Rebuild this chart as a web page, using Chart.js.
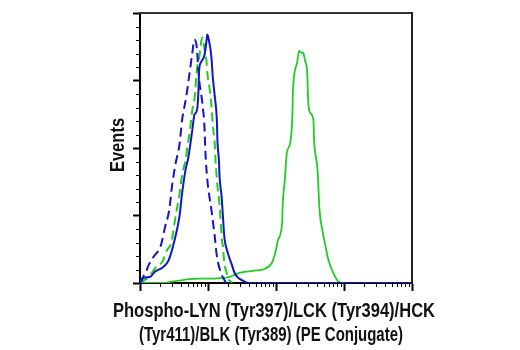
<!DOCTYPE html>
<html>
<head>
<meta charset="utf-8">
<script src="https://cdn.jsdelivr.net/npm/chart.js@4"></script>
<style>
  body { margin: 0; background: #fff; }
  #wrap { width: 520px; height: 350px; }
</style>
</head>
<body>
<div id="wrap"><canvas id="histo" width="520" height="350"></canvas></div>
<script>
// x values are log10 of the PE intensity (0..4 decades), y values are events (% of max)
const blueSolidX = [0, 0.06, 0.15, 0.22, 0.33, 0.40, 0.44, 0.52, 0.58, 0.62, 0.67, 0.71, 0.77, 0.80, 0.84, 0.86, 0.87, 0.90, 0.95, 0.98, 0.99, 1.02, 1.05, 1.07, 1.10, 1.13, 1.14, 1.16, 1.17, 1.20, 1.22, 1.24, 1.29, 1.35, 1.39, 1.44, 1.51, 1.59, 4];
const blueSolidY = [0, 2.0, 2.3, 4.2, 5.7, 7.5, 9.7, 17.1, 24.6, 33.4, 42.0, 46.4, 56.8, 62.3, 64.2, 71.6, 79.0, 81.9, 84.6, 90.1, 92.0, 89.0, 83.8, 76.4, 69.0, 60.5, 52.0, 45.7, 39.4, 32.0, 24.6, 17.1, 11.2, 6.8, 3.8, 2.0, 0.9, 0, 0];

const blueDashX = [0, 0.03, 0.09, 0.13, 0.21, 0.30, 0.37, 0.43, 0.47, 0.52, 0.58, 0.62, 0.68, 0.73, 0.77, 0.80, 0.83, 0.87, 0.92, 0.95, 0.96, 0.99, 1.05, 1.10, 1.13, 1.20, 1.27];
const blueDashY = [0, 1.6, 4.2, 6.8, 10.1, 13.4, 20.9, 27.1, 35.7, 43.8, 51.2, 60.5, 69.0, 77.9, 85.3, 90.1, 88.3, 75.3, 66.0, 56.8, 49.4, 38.3, 27.1, 17.1, 10.1, 3.1, 0];

const greenDashX = [0, 0.13, 0.25, 0.33, 0.40, 0.46, 0.52, 0.58, 0.62, 0.67, 0.70, 0.73, 0.77, 0.80, 0.84, 0.87, 0.90, 0.92, 0.95, 0.98, 0.99, 1.02, 1.05, 1.07, 1.10, 1.11, 1.14, 1.17, 1.19, 1.20, 1.22, 1.24, 1.27, 1.30, 1.36];
const greenDashY = [0, 2.3, 6.4, 7.9, 12.3, 14.9, 24.2, 32.7, 40.1, 45.7, 50.9, 55.7, 64.2, 67.9, 79.7, 83.4, 89.4, 90.9, 86.4, 81.6, 77.9, 72.7, 66.0, 58.6, 51.2, 45.7, 35.7, 29.0, 21.6, 17.1, 13.4, 7.5, 4.2, 1.6, 0];

const greenSolidX = [0, 0.36, 0.46, 0.58, 0.73, 0.87, 1.02, 1.17, 1.32, 1.47, 1.57, 1.72, 1.84, 1.94, 1.99, 2.03, 2.09, 2.10, 2.13, 2.16, 2.21, 2.24, 2.25, 2.31, 2.34, 2.37, 2.40, 2.43, 2.46, 2.47, 2.50, 2.55, 2.56, 2.61, 2.64, 2.68, 2.73, 2.77, 2.84, 2.92, 2.99];
const greenSolidY = [0, 0, 0.5, 0.9, 1.4, 1.6, 1.6, 1.8, 2.3, 3.8, 4.2, 4.7, 5.3, 7.5, 11.2, 16.0, 22.3, 29.7, 38.3, 48.3, 52.0, 61.6, 71.6, 81.6, 86.0, 85.3, 85.3, 82.0, 77.9, 69.0, 63.1, 60.5, 53.1, 42.0, 27.1, 19.7, 13.4, 8.6, 3.8, 0.5, 0];

const xMajorTicks = [0, 1, 2, 3, 4];
const yMajorTicks = [0, 25, 50, 75, 100];
const xTitleLines = ['Phospho-LYN (Tyr397)/LCK (Tyr394)/HCK', '(Tyr411)/BLK (Tyr389) (PE Conjugate)'];
const yTitle = 'Events';

const BLUE = '#1414c8';
const GREEN = '#22cc22';
const TITLE_FONT = "bold 20px 'Liberation Sans', Arial, sans-serif";

function pairs(xs, ys) {
  return xs.map((x, i) => ({ x: x, y: ys[i] }));
}

// short minor ticks between the major ones
const minorTicks = {
  id: 'minorTicks',
  afterDraw(chart) {
    const ctx = chart.ctx;
    const xs = chart.scales.x;
    const ys = chart.scales.y;
    const area = chart.chartArea;
    ctx.save();
    ctx.strokeStyle = '#000';
    ctx.lineWidth = 1;
    ctx.beginPath();
    for (let d = 0; d < 4; d++) {
      for (let k = 2; k <= 9; k++) {
        const px = Math.round(xs.getPixelForValue(d + Math.log10(k))) + 0.5;
        ctx.moveTo(px, area.bottom);
        ctx.lineTo(px, area.bottom + 4);
      }
    }
    for (let v = 5; v < 100; v += 5) {
      if (v % 25 === 0) continue;
      const py = Math.round(ys.getPixelForValue(v)) + 0.5;
      ctx.moveTo(area.left - 4, py);
      ctx.lineTo(area.left, py);
    }
    ctx.stroke();
    ctx.restore();
  }
};

// axis titles in a narrow bold face (no narrow font installed, so squeeze a normal one)
const axisTitles = {
  id: 'axisTitles',
  afterDraw(chart) {
    const ctx = chart.ctx;
    const xs = chart.scales.x;
    const area = chart.chartArea;
    const lineWidths = [322, 264];
    ctx.save();
    ctx.fillStyle = '#111';
    ctx.font = TITLE_FONT;
    ctx.textAlign = 'center';
    ctx.textBaseline = 'middle';
    const cx = (xs.left + xs.right) / 2 - 2;
    let squeeze = 1;
    xTitleLines.forEach((t, i) => {
      const sx = lineWidths[i] / ctx.measureText(t).width;
      if (i === 0) squeeze = sx;
      ctx.save();
      ctx.translate(cx - i * 3, xs.bottom - 39 + i * 24);
      ctx.scale(sx, 1);
      ctx.fillText(t, 0, 0);
      ctx.restore();
    });
    ctx.translate(area.left - 22, (area.top + area.bottom) / 2 - 3);
    ctx.rotate(-Math.PI / 2);
    ctx.scale(squeeze, 1);
    ctx.fillText(yTitle, 0, 0);
    ctx.restore();
  }
};

new Chart(document.getElementById('histo'), {
  type: 'line',
  data: {
    datasets: [
      { data: pairs(blueSolidX, blueSolidY), borderColor: BLUE, borderWidth: 2 },
      { data: pairs(blueDashX, blueDashY), borderColor: BLUE, borderWidth: 2, borderDash: [9, 5] },
      { data: pairs(greenDashX, greenDashY), borderColor: GREEN, borderWidth: 2, borderDash: [9, 5] },
      { data: pairs(greenSolidX, greenSolidY), borderColor: GREEN, borderWidth: 1.8 }
    ]
  },
  options: {
    responsive: false,
    animation: false,
    layout: { padding: { left: 107, top: 13, right: 108, bottom: 0 } },
    elements: { point: { radius: 0 }, line: { cubicInterpolationMode: 'monotone', fill: false } },
    plugins: { legend: { display: false }, tooltip: { enabled: false } },
    scales: {
      x: {
        type: 'linear', min: 0, max: 4,
        afterBuildTicks: s => { s.ticks = xMajorTicks.map(v => ({ value: v })); },
        afterFit: s => { s.height = 67; },
        grid: { drawOnChartArea: false, tickLength: 8, tickColor: '#000', tickWidth: 2 },
        border: { color: '#000', width: 2 },
        ticks: { display: false }
      },
      y: {
        type: 'linear', min: 0, max: 100,
        afterBuildTicks: s => { s.ticks = yMajorTicks.map(v => ({ value: v })); },
        afterFit: s => { s.width = 33; },
        grid: { drawOnChartArea: false, tickLength: 7, tickColor: '#000', tickWidth: 2 },
        border: { color: '#000', width: 2 },
        ticks: { display: false }
      },
      xTop: {
        type: 'linear', position: 'top', min: 0, max: 4,
        afterFit: s => { s.height = 0; },
        grid: { drawOnChartArea: false, drawTicks: false },
        border: { color: '#333', width: 2 },
        ticks: { display: false }
      },
      yRight: {
        type: 'linear', position: 'right', min: 0, max: 100,
        afterFit: s => { s.width = 0; },
        grid: { drawOnChartArea: false, drawTicks: false },
        border: { color: '#222', width: 2 },
        ticks: { display: false }
      }
    }
  },
  plugins: [minorTicks, axisTitles]
});
</script>
</body>
</html>
